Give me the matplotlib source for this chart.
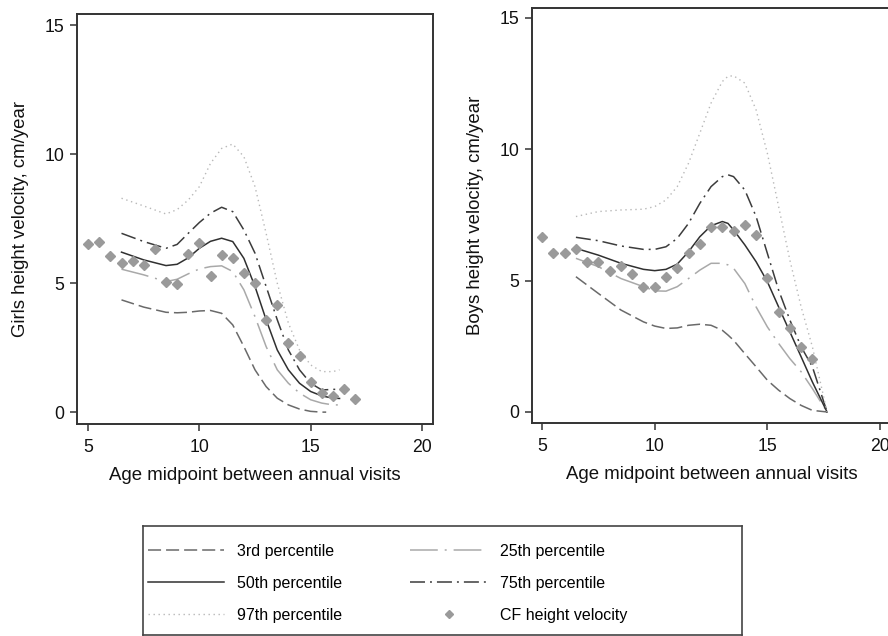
import matplotlib
matplotlib.use("Agg")
import matplotlib.pyplot as plt

plt.rcParams['font.family'] = ['Liberation Sans', 'DejaVu Sans']

# ---------------- Girls ----------------
girls_cf_age = [5, 5.5, 6, 6.5, 7, 7.5, 8, 8.5, 9, 9.5, 10, 10.5, 11, 11.5, 12, 12.5,
                13, 13.5, 14, 14.5, 15, 15.5, 16, 16.5, 17]
girls_cf_hv = [6.52, 6.58, 6.05, 5.77, 5.86, 5.72, 6.34, 5.05, 4.97, 6.13, 6.57, 5.27,
               6.09, 5.99, 5.38, 5.02, 3.58, 4.14, 2.66, 2.17, 1.17, 0.76, 0.61, 0.89, 0.50]

girls_age = [6.5, 7.5, 8.5, 9.0, 9.5, 10.0, 10.5, 11.0, 11.5, 12.0, 12.5, 13.0, 13.5,
             14.0, 14.5, 15.0, 15.5, 16.0, 16.3]
girls_p50 = [6.20, 5.90, 5.68, 5.73, 5.98, 6.35, 6.62, 6.74, 6.61, 5.96, 4.87, 3.58, 2.41,
             1.64, 1.12, 0.80, 0.63, 0.54, 0.53]
girls_p75 = [6.93, 6.61, 6.35, 6.50, 6.93, 7.35, 7.71, 7.94, 7.77, 7.06, 6.16, 4.87, 3.58,
             2.41, 1.64, 1.12, 0.86, 0.88, 0.89]
girls_p25 = [5.54, 5.32, 5.06, 5.15, 5.36, 5.55, 5.64, 5.67, 5.45, 4.74, 3.70, 2.54, 1.64,
             1.12, 0.74, 0.48, 0.35, 0.28, 0.28]
girls_p97 = [8.29, 7.99, 7.68, 7.85, 8.22, 8.74, 9.64, 10.22, 10.39, 9.90, 8.74, 6.93, 5.00,
             3.45, 2.41, 1.83, 1.57, 1.57, 1.64]
girls_age3 = [6.5, 7.5, 8.5, 9.0, 9.5, 10.0, 10.5, 11.0, 11.5, 12.0, 12.5, 13.0, 13.5,
              14.0, 14.5, 15.0, 15.5, 15.7]
girls_p3 = [4.35, 4.07, 3.87, 3.85, 3.87, 3.92, 3.94, 3.83, 3.38, 2.54, 1.64, 0.99, 0.54,
            0.28, 0.12, 0.03, 0.00, 0.00]

# ---------------- Boys ----------------
boys_cf_age = [5, 5.5, 6, 6.5, 7, 7.5, 8, 8.5, 9, 9.5, 10, 10.5, 11, 11.5, 12, 12.5,
               13, 13.5, 14, 14.5, 15, 15.5, 16, 16.5, 17]
boys_cf_hv = [6.67, 6.04, 6.04, 6.19, 5.71, 5.71, 5.36, 5.57, 5.24, 4.77, 4.77, 5.12,
              5.50, 6.06, 6.38, 7.05, 7.03, 6.89, 7.13, 6.75, 5.11, 3.80, 3.18, 2.48, 2.03]

boys_age = [6.5, 7.5, 8.5, 9.5, 10.0, 10.5, 11.0, 11.5, 12.0, 12.5, 13.0, 13.25, 13.5,
            14.0, 14.5, 15.0, 15.5, 16.0, 16.5, 17.0, 17.65]
boys_p50 = [6.23, 5.97, 5.66, 5.43, 5.38, 5.43, 5.63, 6.10, 6.67, 7.09, 7.25, 7.18, 6.93,
            6.36, 5.72, 4.96, 4.00, 3.05, 2.10, 1.14, 0.00]
boys_p75 = [6.65, 6.52, 6.32, 6.19, 6.19, 6.29, 6.61, 7.18, 7.94, 8.58, 8.96, 9.03, 8.96,
            8.45, 7.44, 6.04, 4.64, 3.50, 2.48, 1.72, 0.00]
boys_p25 = [5.85, 5.53, 5.08, 4.77, 4.61, 4.60, 4.77, 5.08, 5.40, 5.66, 5.66, 5.60, 5.47,
            4.89, 4.00, 3.24, 2.61, 2.03, 1.53, 0.89, 0.00]
boys_p3 = [5.15, 4.51, 3.88, 3.43, 3.27, 3.18, 3.20, 3.30, 3.34, 3.30, 3.11, 2.93, 2.73,
           2.22, 1.72, 1.21, 0.83, 0.51, 0.25, 0.06, 0.00]
boys_p97 = [7.44, 7.63, 7.69, 7.72, 7.82, 8.07, 8.58, 9.47, 10.61, 11.76, 12.58, 12.78, 12.80,
            12.52, 11.50, 9.85, 7.82, 5.78, 4.00, 2.48, 0.00]

x_ticks = [5, 10, 15, 20]
y_ticks = [0, 5, 10, 15]
legend_labels = ["3rd percentile", "50th percentile", "97th percentile",
                 "25th percentile", "75th percentile", "CF height velocity"]

LW = 1.1
styles = {
    "p3": dict(color="#6a6a6a", lw=LW, dashes=(9.4 / LW, 3.6 / LW)),
    "p25": dict(color="#a9a9a9", lw=LW, dashes=(20 / LW, 5 / LW, 1.4 / LW, 5 / LW)),
    "p50": dict(color="#303030", lw=LW),
    "p75": dict(color="#3c3c3c", lw=LW, dashes=(10.8 / LW, 3.6 / LW, 1.4 / LW, 3.6 / LW)),
    "p97": dict(color="#b8b8b8", lw=1.0, dashes=(1.0, 2.6)),
}
cf_style = dict(ls="none", marker="D", ms=5.2, color="#9a9a9a", mec="#9a9a9a")

W, H = 888, 636
fig = plt.figure(figsize=(W / 100, H / 100), dpi=100)

def frac(l, t, r, b):
    return [l / W, 1 - b / H, (r - l) / W, (b - t) / H]

ax1 = fig.add_axes(frac(77, 14, 433, 424))
ax2 = fig.add_axes(frac(532, 8, 891, 423))

def style_ax(ax, xlim, ylim, ylabel):
    ax.set_xlim(*xlim)
    ax.set_ylim(*ylim)
    ax.set_xticks(x_ticks)
    ax.set_yticks(y_ticks)
    ax.tick_params(direction="out", length=5, width=1.1, color="#333333",
                   labelsize=12.7, labelcolor="#111111")
    ax.tick_params(axis="x", pad=6)
    ax.tick_params(axis="y", pad=4)
    for s in ax.spines.values():
        s.set_color("#333333")
        s.set_linewidth(1.4)
    ax.set_xlabel("Age midpoint between annual visits", fontsize=13.4, labelpad=8,
                  color="#111111")
    ax.set_ylabel(ylabel, fontsize=13.4, labelpad=11.5, color="#111111")

# Girls
ax1.plot(girls_age3, girls_p3, **styles["p3"])
ax1.plot(girls_age, girls_p25, **styles["p25"])
ax1.plot(girls_age, girls_p50, **styles["p50"])
ax1.plot(girls_age, girls_p75, **styles["p75"])
ax1.plot(girls_age, girls_p97, **styles["p97"])
ax1.plot(girls_cf_age, girls_cf_hv, **cf_style)
style_ax(ax1, (4.5, 20.5), (-0.46, 15.43), "Girls height velocity, cm/year")

# Boys
h3, = ax2.plot(boys_age, boys_p3, **styles["p3"])
h25, = ax2.plot(boys_age, boys_p25, **styles["p25"])
h50, = ax2.plot(boys_age, boys_p50, **styles["p50"])
h75, = ax2.plot(boys_age, boys_p75, **styles["p75"])
h97, = ax2.plot(boys_age, boys_p97, **styles["p97"])
hcf, = ax2.plot(boys_cf_age, boys_cf_hv, **cf_style)
style_ax(ax2, (4.55, 20.49), (-0.42, 15.38), "Boys height velocity, cm/year")

# Legend box
axl = fig.add_axes(frac(143, 526, 742, 635))
axl.set_xticks([])
axl.set_yticks([])
for s in axl.spines.values():
    s.set_color("#444444")
    s.set_linewidth(1.2)
axl.legend([h3, h50, h97, h25, h75, hcf], legend_labels, ncol=2, loc="upper left",
           bbox_to_anchor=(0.0, 1 - 13 / 109), frameon=False, fontsize=11.5,
           handlelength=4.8, handletextpad=0.8, columnspacing=4.25, labelspacing=1.07,
           borderaxespad=0.0, borderpad=0.3, markerscale=0.85)

fig.savefig("out.png", dpi=100)
